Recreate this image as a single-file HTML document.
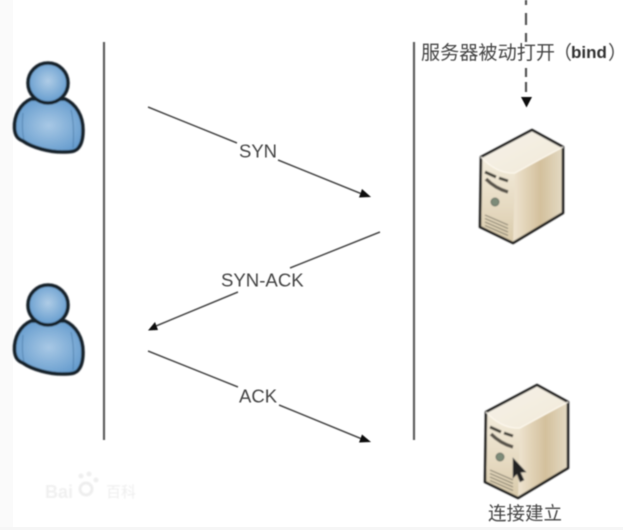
<!DOCTYPE html>
<html><head><meta charset="utf-8"><style>
html,body{margin:0;padding:0;background:#fff}
svg{display:block}
</style></head><body>
<svg width="623" height="530" viewBox="0 0 623 530" xmlns="http://www.w3.org/2000/svg" font-family="'Liberation Sans','Noto Sans CJK SC',sans-serif">
<defs>
<radialGradient id="h" cx=".5" cy=".45" r=".6"><stop offset="0" stop-color="#afcce6"/><stop offset="1" stop-color="#5d97cc"/></radialGradient>
<radialGradient id="b" cx=".5" cy=".5" r=".65"><stop offset="0" stop-color="#a8c8e5"/><stop offset="1" stop-color="#5b95ca"/></radialGradient>
<linearGradient id="f" x1="0" y1="0" x2="0" y2="1"><stop offset="0" stop-color="#f3ecdc"/><stop offset=".6" stop-color="#e5d9c0"/><stop offset="1" stop-color="#d8c9a9"/></linearGradient>
<linearGradient id="s" x1="0" y1="0" x2="1" y2="0"><stop offset="0" stop-color="#eee4d0"/><stop offset=".55" stop-color="#d3c09c"/><stop offset="1" stop-color="#e4dac4"/></linearGradient>
<linearGradient id="t" x1="0" y1="0" x2="1" y2="1"><stop offset="0" stop-color="#f6f2e8"/><stop offset="1" stop-color="#f1e9d9"/></linearGradient>
<filter id="bl" x="-10%" y="-10%" width="120%" height="120%"><feGaussianBlur stdDeviation=".7"/></filter>
<filter id="tb" x="-5%" y="-20%" width="110%" height="140%"><feGaussianBlur stdDeviation=".45"/></filter>
<g id="person">
<path d="M31 99 C20 104 14 116 14.500 128 C15 136 18 139 23 141 C33 148 50 152 62 152 C70 152 76 152 79 147 C82 143 83 138 83 130 C83 116 76 104 65 99 Z" fill="url(#b)" stroke="#16202b" stroke-width="3.600" stroke-linejoin="round"/>
<path d="M23 113 C22 124 22 132 24 140 M71 110 C74 122 74 134 73 148" fill="none" stroke="#3f6f9b" stroke-width="1" opacity=".6"/>
<circle cx="48" cy="83" r="20" fill="url(#h)" stroke="#16202b" stroke-width="3.600"/>
</g>
<g id="server">
<path d="M0 27 L51 0 L82 17 L82 83 L32 113 L-1 97 Z" fill="#e6dcc5"/>
<path d="M34 43 L82 17 L82 83 L32 113 Z" fill="url(#s)"/>
<path d="M0 27 L51 0 L82 17 L34 43 C22 44 10 38 0 27 Z" fill="url(#t)"/>
<path d="M0 27 C10 38 22 44 34 43 L32 113 L-1 97 Z" fill="url(#f)"/>
<path d="M0 27 L51 0 L82 17 L82 83 L32 113 L-1 97 Z" fill="none" stroke="#1f1f1c" stroke-width="2.600" stroke-linejoin="round"/>
<path d="M0 27 C10 38 22 44 34 43 L82 17" fill="none" stroke="#fffaf0" stroke-width="1"/>
<path d="M4 42 L15 47 M18 48 L27 51" stroke="#4a463d" stroke-width="3"/>
<path d="M5 49 C12 56 20 60 27 62" fill="none" stroke="#5a554b" stroke-width="3.500"/>
<circle cx="14" cy="72" r="4" fill="#7d8b78" stroke="#6a7266"/>
<path d="M4 85 L27 95 M4 88.500 L27 98.500 M4 92 L27 102 M4 95.500 L27 105.500" stroke="#86806f" stroke-width="1.200"/>
</g>
</defs>
<rect width="623" height="530" fill="#fff"/>
<rect x="0" y="0" width="13" height="530" fill="#fafafa"/>
<rect x="0" y="527" width="623" height="3" fill="#f6f6f6"/>
<g filter="url(#bl)">
<use href="#person"/>
<use href="#person" y="222"/>
<use href="#server" x="481" y="130"/>
<use href="#server" x="486" y="385"/>
<path d="M513 458 L513 478 L517 474 L520 482 L524 480 L520.500 472.500 L526 472 Z" fill="#222" stroke="#555" stroke-width=".6"/>
</g>
<g filter="url(#tb)">
<path d="M104 42V440M414 42V440" stroke="#5f5f5f" stroke-width="2.200" fill="none"/>
<path d="M148 107L237 143M278 160L362 194" stroke="#4a4a4a" stroke-width="1.500" fill="none"/>
<path d="M362 189L371 197L359 197.500Z" fill="#111"/>
<path d="M380 232L290 268M238 292L156 326" stroke="#4a4a4a" stroke-width="1.500" fill="none"/>
<path d="M155 322L148 330.500L158 330Z" fill="#111"/>
<path d="M148 351L238 387M279 405L362 439" stroke="#4a4a4a" stroke-width="1.500" fill="none"/>
<path d="M362 434.500L371 442L359 442.500Z" fill="#111"/>
<path d="M526 0V5M526 13V25M526 33V42M526 68V77M526 82V92" stroke="#555" stroke-width="2.200" fill="none"/>
<path d="M521 97L532 97L526.500 107.500Z" fill="#111"/>
<text x="239" y="157.500" font-size="18.500" fill="#444">SYN</text>
<text x="221" y="286.500" font-size="18.600" fill="#444">SYN-ACK</text>
<text x="239" y="402.500" font-size="18.500" fill="#444">ACK</text>
<text x="421" y="59" font-size="19" fill="#444" textLength="134" lengthAdjust="spacingAndGlyphs">服务器被动打开</text>
<text x="553" y="59" font-size="19" fill="#444">（</text>
<text x="571" y="58" font-size="17" font-weight="bold" fill="#333">bind</text>
<text x="608" y="59" font-size="19" fill="#444">）</text>
<text x="488" y="520" font-size="18.500" fill="#444" textLength="74">连接建立</text>
</g>
<g filter="url(#bl)" fill="#efefef">
<text x="45" y="498" font-size="18" font-weight="bold" fill="#f0f0f0">Bai</text>
<circle cx="86" cy="489" r="6" fill="none" stroke="#eeeeee" stroke-width="3"/>
<circle cx="81" cy="476" r="2.500"/><circle cx="89" cy="474" r="2.500"/><circle cx="96" cy="480" r="2.500"/>
<text x="106" y="497" font-size="15" fill="#eeeeee">百科</text>
</g>
</svg>
</body></html>
